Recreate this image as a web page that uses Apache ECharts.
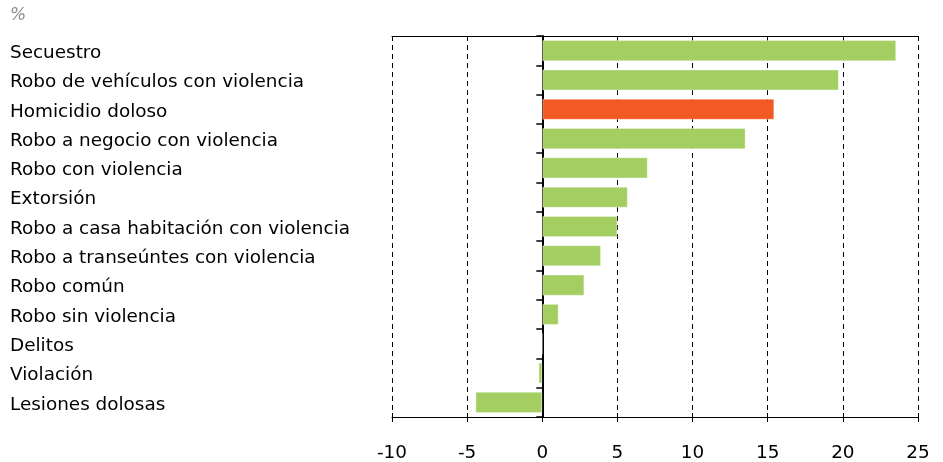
<!DOCTYPE html>
<html>
<head>
<meta charset="utf-8">
<script src="https://cdn.jsdelivr.net/npm/echarts@6/dist/echarts.min.js"></script>
<style>
  html, body { margin: 0; padding: 0; background: #fff; }
  #chart { width: 943px; height: 462px; }
</style>
</head>
<body>
<div id="chart"></div>
<script>
// Crime categories, top to bottom
const categories = [
  'Secuestro',
  'Robo de vehículos con violencia',
  'Homicidio doloso',
  'Robo a negocio con violencia',
  'Robo con violencia',
  'Extorsión',
  'Robo a casa habitación con violencia',
  'Robo a transeúntes con violencia',
  'Robo común',
  'Robo sin violencia',
  'Delitos',
  'Violación',
  'Lesiones dolosas'
];

// Percentage change per category
const values = [23.55, 19.73, 15.44, 13.53, 7.02, 5.69, 5.0, 3.91, 2.8, 1.09, 0.0, -0.25, -4.45];

// Category drawn in the accent colour
const highlighted = ['Homicidio doloso'];

// Value axis ticks
const xTicks = { min: -10, max: 25, interval: 5 };

const GREEN = '#a5ce62';
const ORANGE = '#f15a22';
const FONT = '"DejaVu Sans", Verdana, sans-serif';

const barData = values.map((v, i) => ({
  value: v,
  itemStyle: { color: highlighted.includes(categories[i]) ? ORANGE : GREEN }
}));

const chart = echarts.init(document.getElementById('chart'), null, { renderer: 'canvas' });

const valueAxisBase = { type: 'value', min: xTicks.min, max: xTicks.max, interval: xTicks.interval };

chart.setOption({
  animation: false,
  backgroundColor: '#ffffff',
  title: {
    text: '%',
    left: 5,
    top: 2,
    textStyle: { fontFamily: FONT, fontSize: 17, fontStyle: 'italic', fontWeight: 'normal', color: '#8c8c8c' }
  },
  grid: { left: 392, right: 25, top: 36, bottom: 44, containLabel: false },
  xAxis: [
    Object.assign({}, valueAxisBase, {
      position: 'bottom',
      axisLine: { show: true, onZero: false, lineStyle: { color: '#000', width: 1 } },
      axisTick: { show: true, length: 5, lineStyle: { color: '#000' } },
      axisLabel: { fontFamily: FONT, fontSize: 18.4, color: '#000', margin: 27 },
      splitLine: { show: true, lineStyle: { color: '#000', type: [5, 4], width: 1 } }
    }),
    Object.assign({}, valueAxisBase, {
      position: 'top',
      axisLine: { show: true, onZero: false, lineStyle: { color: '#000', width: 1 } },
      axisTick: { show: false },
      axisLabel: { show: false },
      splitLine: { show: false }
    }),
    // upward half of the crossing ticks on the bottom axis
    Object.assign({}, valueAxisBase, {
      position: 'bottom',
      axisLine: { show: false, onZero: false },
      axisTick: { show: true, inside: true, length: 4, lineStyle: { color: '#000' } },
      axisLabel: { show: false },
      splitLine: { show: false }
    })
  ],
  yAxis: [
    {
      type: 'category',
      data: categories,
      inverse: true,
      position: 'left',
      axisLine: { show: false, onZero: false },
      axisTick: { show: false },
      axisLabel: {
        align: 'left',
        margin: 382,
        formatter: (v) => '{t|' + v + '}',
        rich: {
          t: {
            fontFamily: FONT,
            fontSize: 18.4,
            color: '#000',
            padding: [5, 0, 0, 0]
          }
        }
      },
      splitLine: { show: false }
    },
    {
      type: 'category',
      data: categories,
      inverse: true,
      position: 'left',
      axisLine: { show: true, onZero: true, lineStyle: { color: '#000', width: 2 } },
      axisTick: { show: true, length: 6, lineStyle: { color: '#000', width: 1.5 } },
      axisLabel: { show: false },
      splitLine: { show: false }
    }
  ],
  series: [
    {
      type: 'bar',
      xAxisIndex: 0,
      yAxisIndex: 0,
      data: barData,
      barCategoryGap: '28%',
      itemStyle: { borderColor: 'rgba(255,255,255,0.35)', borderWidth: 1 },
      z: 1
    }
  ]
});
</script>
</body>
</html>
